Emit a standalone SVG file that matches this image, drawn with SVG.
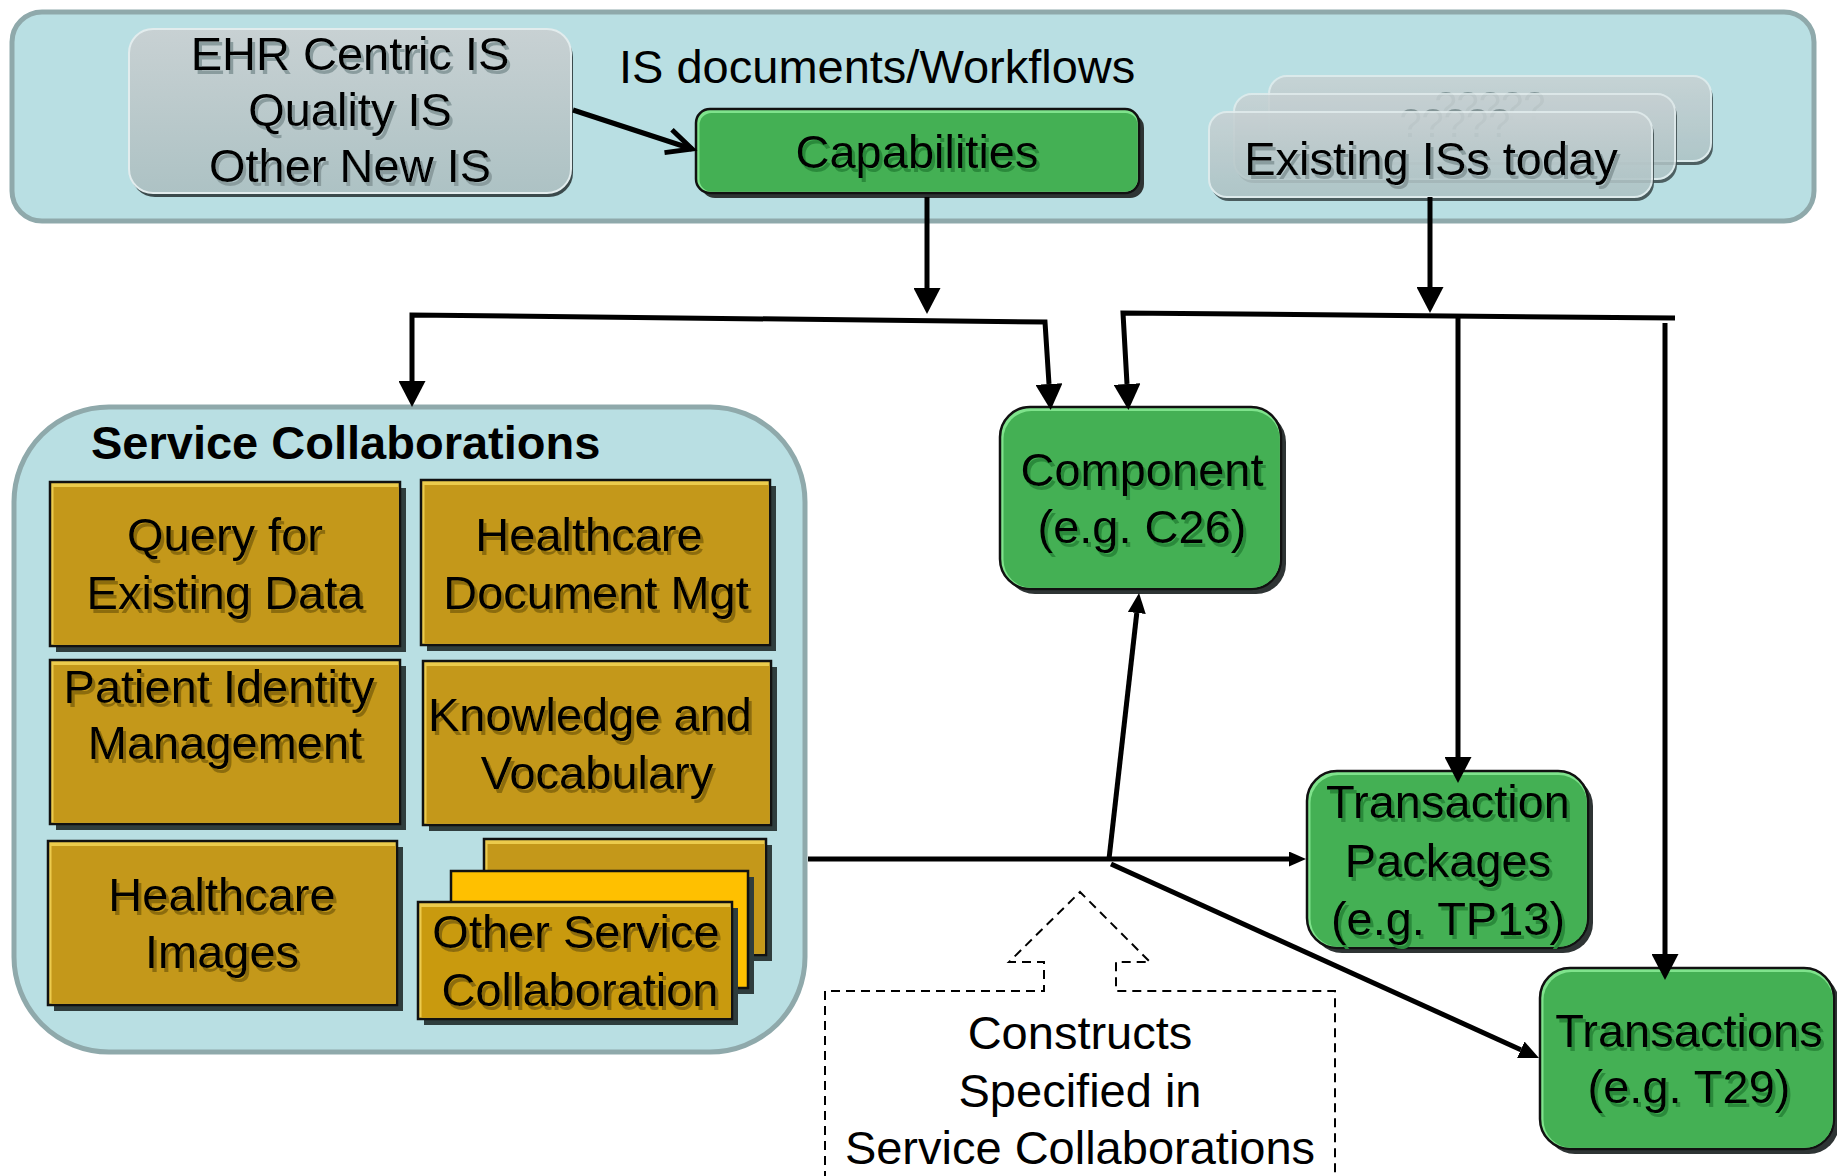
<svg xmlns="http://www.w3.org/2000/svg" width="1837" height="1176" viewBox="0 0 1837 1176">
<defs>
<style>
.t{font-family:"Liberation Sans",Arial,sans-serif;font-size:47px;fill:#000;text-anchor:middle}
.tl{text-anchor:start}
.b{font-weight:bold}
.panel{fill:#b9dfe3;stroke:#8fa9ab;stroke-width:5}
.gsh{fill:#2f3d3d}
.ghl{fill:#eccb4c;stroke:#111;stroke-width:2.5}
.gin{fill:#c4981a}
.nsh{fill:#2e3434}
.nhl{fill:#7fe38c;stroke:#111;stroke-width:2.5}
.nin{fill:#44b054}
.ysh{fill:#3b4a4c}
.ybox{fill:url(#grayGrad);stroke:#e2eced;stroke-width:2}
.c{fill:none;stroke:#000;stroke-width:5;stroke-linejoin:miter}
.dash{fill:none;stroke:#000;stroke-width:2;stroke-dasharray:9 6}
.q{fill:#7a8b8d;font-size:40px}
</style>
<linearGradient id="grayGrad" x1="0" y1="0" x2="0" y2="1">
<stop offset="0" stop-color="#c8d1d3"/>
<stop offset="1" stop-color="#adc2c4"/>
</linearGradient>
<filter id="tsG" x="-5%" y="-10%" width="115%" height="140%">
<feFlood flood-color="#2a8a3a"/><feComposite in2="SourceAlpha" operator="in"/><feOffset dx="3" dy="4" result="s"/>
<feMerge><feMergeNode in="s"/><feMergeNode in="SourceGraphic"/></feMerge>
</filter>
<filter id="tsY" x="-5%" y="-10%" width="115%" height="140%">
<feFlood flood-color="#8c6c0c"/><feComposite in2="SourceAlpha" operator="in"/><feOffset dx="3" dy="4" result="s"/>
<feMerge><feMergeNode in="s"/><feMergeNode in="SourceGraphic"/></feMerge>
</filter>
<filter id="tsS" x="-5%" y="-10%" width="115%" height="140%">
<feFlood flood-color="#8a9c9e"/><feComposite in2="SourceAlpha" operator="in"/><feOffset dx="3" dy="4" result="s"/>
<feMerge><feMergeNode in="s"/><feMergeNode in="SourceGraphic"/></feMerge>
</filter>
<marker id="aBig" markerUnits="userSpaceOnUse" viewBox="0 0 26 27" refX="0" refY="13.5" markerWidth="26" markerHeight="27" orient="auto-start-reverse">
<path d="M0,0 L26,13.5 L0,27 Z" fill="#000"/>
</marker>
<marker id="aMed" markerUnits="userSpaceOnUse" viewBox="0 0 20 18" refX="0" refY="9" markerWidth="20" markerHeight="18" orient="auto">
<path d="M0,0 L20,9 L0,18 Z" fill="#000"/>
</marker>
<marker id="aSm" markerUnits="userSpaceOnUse" viewBox="0 0 17 15" refX="0" refY="7.5" markerWidth="17" markerHeight="15" orient="auto">
<path d="M0,0 L17,7.5 L0,15 Z" fill="#000"/>
</marker>
<marker id="aOpen" markerUnits="userSpaceOnUse" viewBox="-4 -4 36 32" refX="26" refY="12" markerWidth="36" markerHeight="32" orient="auto">
<path d="M1,0 L26,12 L1,24" fill="none" stroke="#000" stroke-width="5" stroke-linejoin="miter"/>
</marker>
</defs>

<rect width="1837" height="1176" fill="#fff"/>

<g id="is-panel">
<rect class="panel" x="12" y="12" width="1802" height="209" rx="30"/>
<text class="t tl" x="619" y="83">IS documents/Workflows</text>
</g>

<g id="ehr-is">
<rect class="ysh" x="131" y="33" width="442" height="164" rx="24"/>
<rect class="ybox" x="129" y="29" width="442" height="164" rx="24"/>
<text class="t" x="350" y="70" filter="url(#tsS)">EHR Centric IS</text>
<text class="t" x="350" y="126" filter="url(#tsS)">Quality IS</text>
<text class="t" x="350" y="182" filter="url(#tsS)">Other New IS</text>
</g>

<g id="capabilities">
<rect class="nsh" x="701" y="114" width="443" height="84" rx="14"/>
<rect class="nhl" x="696" y="109" width="443" height="84" rx="14"/>
<rect class="nin" x="699.5" y="113" width="438" height="78.5" rx="12"/>
<text class="t" x="917" y="168" filter="url(#tsG)">Capabilities</text>
</g>

<g id="existing-is">
<g opacity="0.85">
<rect class="ysh" x="1271" y="80" width="442" height="85" rx="18"/>
<rect class="ybox" x="1269" y="76" width="442" height="85" rx="18"/>
<text class="t q" x="1490" y="120">?????</text>
</g>
<g opacity="0.85">
<rect class="ysh" x="1236" y="98" width="441" height="85" rx="18"/>
<rect class="ybox" x="1234" y="94" width="441" height="85" rx="18"/>
<text class="t q" x="1455" y="137">?????</text>
</g>
<g opacity="0.88">
<rect class="ysh" x="1211" y="116" width="443" height="85" rx="18"/>
<rect class="ybox" x="1209" y="112" width="443" height="85" rx="18"/>
</g>
<text class="t" x="1431" y="175" filter="url(#tsS)">Existing ISs today</text>
</g>

<g id="service-collaborations">
<rect class="panel" x="14" y="407" width="791" height="645" rx="95"/>
<text class="t tl b" x="91" y="459">Service Collaborations</text>
</g>

<g id="query-existing-data">
<rect class="gsh" x="56" y="488" width="350" height="164"/>
<rect class="ghl" x="50" y="482" width="350" height="164"/>
<rect class="gin" x="53.5" y="487" width="345.3" height="157.8"/>
<text class="t" x="225" y="551" filter="url(#tsY)">Query for</text>
<text class="t" x="225" y="609" filter="url(#tsY)">Existing Data</text>
</g>

<g id="healthcare-document-mgt">
<rect class="gsh" x="427" y="486" width="349" height="165"/>
<rect class="ghl" x="421" y="480" width="349" height="165"/>
<rect class="gin" x="424.5" y="485" width="344.3" height="158.8"/>
<text class="t" x="589" y="551" filter="url(#tsY)">Healthcare</text>
<text class="t" x="596" y="609" filter="url(#tsY)">Document Mgt</text>
</g>

<g id="patient-identity-management">
<rect class="gsh" x="56" y="666" width="350" height="164"/>
<rect class="ghl" x="50" y="660" width="350" height="164"/>
<rect class="gin" x="53.5" y="665" width="345.3" height="157.8"/>
<text class="t" x="219" y="703" filter="url(#tsY)">Patient Identity</text>
<text class="t" x="225" y="759" filter="url(#tsY)">Management</text>
</g>

<g id="knowledge-vocabulary">
<rect class="gsh" x="429" y="667" width="348" height="164"/>
<rect class="ghl" x="423" y="661" width="348" height="164"/>
<rect class="gin" x="426.5" y="666" width="343.3" height="157.8"/>
<text class="t" x="590" y="731" filter="url(#tsY)">Knowledge and</text>
<text class="t" x="597" y="789" filter="url(#tsY)">Vocabulary</text>
</g>

<g id="healthcare-images">
<rect class="gsh" x="54" y="847" width="349" height="164"/>
<rect class="ghl" x="48" y="841" width="349" height="164"/>
<rect class="gin" x="51.5" y="846" width="344.3" height="157.8"/>
<text class="t" x="222" y="911" filter="url(#tsY)">Healthcare</text>
<text class="t" x="222" y="968" filter="url(#tsY)">Images</text>
</g>

<g id="other-service-collaboration">
<rect class="gsh" x="490" y="845" width="282" height="116"/>
<rect class="ghl" x="484" y="839" width="282" height="116"/>
<rect class="gin" x="487.5" y="844" width="277.3" height="109.8"/>
<rect class="gsh" x="457" y="877" width="297" height="117"/>
<rect x="451" y="871" width="297" height="117" fill="#ffc000" stroke="#111" stroke-width="2.5"/>
<rect class="gsh" x="424" y="908" width="314" height="117"/>
<rect class="ghl" x="418" y="902" width="314" height="117"/>
<rect x="421.5" y="907" width="309.3" height="110.8" fill="#c99a0e"/>
<text class="t" x="576" y="948" filter="url(#tsY)">Other Service</text>
<text class="t" x="580" y="1006" filter="url(#tsY)">Collaboration</text>
</g>

<g id="component">
<rect class="nsh" x="1005" y="412" width="281" height="182" rx="30"/>
<rect class="nhl" x="1000" y="407" width="281" height="182" rx="30"/>
<rect class="nin" x="1003.5" y="411" width="276.3" height="176.8" rx="28"/>
<text class="t" x="1142" y="486" filter="url(#tsG)">Component</text>
<text class="t" x="1142" y="543" filter="url(#tsG)">(e.g. C26)</text>
</g>

<g id="transaction-packages">
<rect class="nsh" x="1312" y="776" width="281" height="177" rx="30"/>
<rect class="nhl" x="1307" y="771" width="281" height="177" rx="30"/>
<rect class="nin" x="1310.5" y="775" width="276.3" height="171.8" rx="28"/>
<text class="t" x="1448" y="818" filter="url(#tsG)">Transaction</text>
<text class="t" x="1448" y="877" filter="url(#tsG)">Packages</text>
<text class="t" x="1448" y="935" filter="url(#tsG)">(e.g. TP13)</text>
</g>

<g id="transactions">
<rect class="nsh" x="1545" y="973" width="294" height="181" rx="30"/>
<rect class="nhl" x="1540" y="968" width="294" height="181" rx="30"/>
<rect class="nin" x="1543.5" y="972" width="289.3" height="175.8" rx="28"/>
<text class="t" x="1689" y="1047" filter="url(#tsG)">Transactions</text>
<text class="t" x="1689" y="1103" filter="url(#tsG)">(e.g. T29)</text>
</g>

<g id="constructs-callout">
<path class="dash" d="M825,1180 V991 H1044 V962 H1009 L1080,892 L1150,962 H1116 V991 H1335 V1180"/>
<text class="t" x="1080" y="1049">Constructs</text>
<text class="t" x="1080" y="1107">Specified in</text>
<text class="t" x="1080" y="1164">Service Collaborations</text>
</g>

<g id="connectors">
<path class="c" d="M573,110 L692,149" marker-end="url(#aOpen)"/>
<path class="c" d="M927,197 V288" marker-end="url(#aBig)"/>
<path class="c" d="M412,381 L412,315 L1045,322 L1049,384" marker-start="url(#aBig)" marker-end="url(#aBig)"/>
<path class="c" d="M1430,197 V287" marker-end="url(#aBig)"/>
<path class="c" d="M1127,384 L1123,313 L1675,318" marker-start="url(#aBig)"/>
<path class="c" d="M1458,318 V757" marker-end="url(#aBig)"/>
<path class="c" d="M1665,323 V954" marker-end="url(#aBig)"/>
<path class="c" d="M808,859 H1289" marker-end="url(#aSm)"/>
<path class="c" d="M1109,859 L1136.8,612.9" marker-end="url(#aMed)"/>
<path class="c" d="M1111,864 L1520.8,1049.7" marker-end="url(#aMed)"/>
</g>
</svg>
